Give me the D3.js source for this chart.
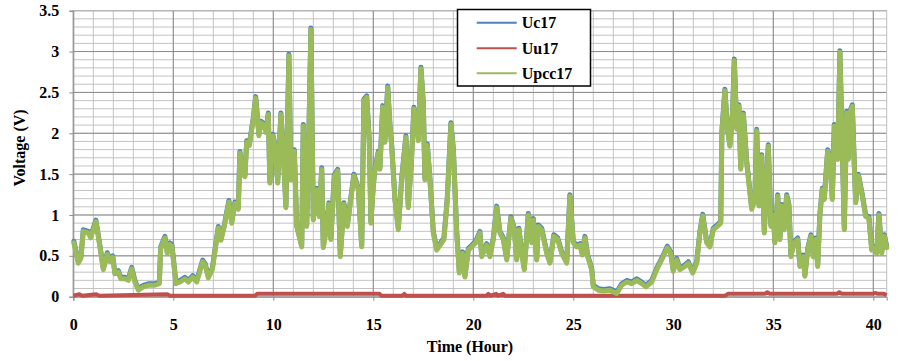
<!DOCTYPE html>
<html>
<head>
<meta charset="utf-8">
<style>
  body { margin: 0; background: #fff; }
  svg { display: block; }
  svg text { font-family: "Liberation Serif", "Times New Roman", Times, serif; }
</style>
</head>
<body>
<svg></svg>
<script src="https://d3js.org/d3.v7.min.js"></script>
<script>
// time axis (hours) and voltages
const upccTimes = [0.03, 0.25, 0.38, 0.5, 0.75, 0.87, 1.13, 1.33, 1.5, 1.7, 1.83, 1.97, 2.08, 2.25, 2.37, 2.58, 2.75, 2.92, 3.08, 3.25,
  3.5, 3.75, 4.08, 4.3, 4.37, 4.58, 4.7, 4.83, 4.93, 5.13, 5.33, 5.58, 5.75, 5.97, 6.17, 6.47, 6.6, 6.75, 6.95, 7.25,
  7.38, 7.55, 7.78, 7.92, 8.08, 8.25, 8.33, 8.45, 8.58, 8.67, 8.8, 9.0, 9.12, 9.28, 9.38, 9.55, 9.63, 9.75, 9.83, 9.97,
  10.08, 10.22, 10.38, 10.5, 10.63, 10.78, 10.88, 11.05, 11.17, 11.42, 11.5, 11.67, 11.75, 11.88, 12.0, 12.17, 12.3, 12.42, 12.5, 12.62,
  12.78, 12.88, 13.05, 13.22, 13.35, 13.53, 13.7, 14.03, 14.25, 14.42, 14.53, 14.67, 14.8, 14.88, 15.0, 15.08, 15.25, 15.33, 15.47, 15.58,
  15.72, 15.83, 15.92, 16.08, 16.25, 16.42, 16.63, 16.75, 16.92, 17.03, 17.17, 17.25, 17.38, 17.5, 17.58, 17.7, 17.83, 18.0, 18.17, 18.42,
  18.53, 18.7, 18.88, 19.0, 19.17, 19.3, 19.47, 19.58, 19.75, 19.92, 20.12, 20.33, 20.42, 20.67, 20.83, 21.0, 21.17, 21.33, 21.5, 21.67,
  21.88, 22.05, 22.17, 22.28, 22.42, 22.55, 22.75, 22.92, 23.0, 23.17, 23.25, 23.42, 23.67, 23.83, 24.03, 24.22, 24.42, 24.67, 24.83, 25.0,
  25.17, 25.33, 25.45, 25.58, 25.72, 25.92, 26.0, 26.25, 26.5, 26.83, 27.17, 27.42, 27.67, 27.92, 28.17, 28.42, 28.63, 28.92, 29.17, 29.42,
  29.7, 29.87, 30.0, 30.17, 30.33, 30.58, 30.75, 30.97, 31.17, 31.33, 31.47, 31.67, 31.83, 32.0, 32.2, 32.37, 32.43, 32.58, 32.7, 32.83,
  32.97, 33.05, 33.17, 33.28, 33.37, 33.5, 33.67, 33.92, 34.08, 34.17, 34.28, 34.42, 34.55, 34.75, 34.88, 35.0, 35.08, 35.22, 35.33, 35.42,
  35.55, 35.67, 35.78, 35.88, 36.05, 36.22, 36.33, 36.5, 36.58, 36.72, 36.88, 37.0, 37.12, 37.22, 37.33, 37.45, 37.55, 37.72, 37.83, 37.95,
  38.05, 38.22, 38.33, 38.45, 38.55, 38.67, 38.75, 38.83, 38.95, 39.05, 39.12, 39.25, 39.45, 39.62, 39.78, 39.92, 40.05, 40.17, 40.28, 40.42,
  40.55, 40.67];
const upccValues = [0.66, 0.41, 0.47, 0.80, 0.78, 0.72, 0.92, 0.61, 0.33, 0.52, 0.43, 0.48, 0.28, 0.30, 0.22, 0.22, 0.20, 0.34, 0.18, 0.08,
  0.12, 0.14, 0.14, 0.16, 0.59, 0.72, 0.53, 0.64, 0.62, 0.16, 0.18, 0.22, 0.18, 0.24, 0.18, 0.43, 0.38, 0.23, 0.33, 0.84,
  0.69, 0.86, 1.16, 0.90, 1.14, 1.07, 1.76, 1.52, 1.47, 1.89, 1.85, 2.17, 2.43, 1.97, 2.13, 2.09, 2.01, 2.23, 1.39, 1.97,
  1.85, 1.39, 2.23, 1.76, 1.09, 2.95, 1.43, 1.78, 0.86, 0.61, 2.09, 0.86, 1.60, 3.27, 0.94, 1.31, 0.98, 1.56, 0.60, 0.78,
  1.13, 0.70, 1.47, 1.54, 0.49, 1.13, 0.86, 1.48, 1.31, 0.61, 2.40, 2.44, 1.89, 0.90, 1.35, 1.54, 1.76, 1.56, 2.32, 1.89,
  2.56, 2.09, 1.84, 1.19, 0.82, 1.43, 1.95, 1.09, 1.72, 2.30, 2.09, 1.91, 2.79, 2.36, 1.43, 1.85, 1.43, 0.78, 0.57, 0.66,
  0.70, 1.19, 2.11, 1.80, 0.78, 0.29, 0.53, 0.24, 0.57, 0.61, 0.66, 0.78, 0.49, 0.63, 0.49, 0.70, 1.09, 0.78, 0.70, 0.45,
  0.96, 0.82, 0.45, 0.82, 0.53, 0.33, 1.00, 0.66, 0.94, 0.45, 0.86, 0.82, 0.53, 0.41, 0.74, 0.70, 0.53, 0.41, 1.23, 0.66,
  0.61, 0.63, 0.51, 0.72, 0.49, 0.33, 0.12, 0.08, 0.07, 0.08, 0.04, 0.14, 0.18, 0.16, 0.20, 0.16, 0.12, 0.18, 0.33, 0.45,
  0.60, 0.53, 0.31, 0.45, 0.33, 0.37, 0.41, 0.29, 0.41, 0.78, 0.99, 0.66, 0.61, 0.82, 0.86, 0.90, 2.01, 2.52, 2.05, 1.84,
  2.28, 2.89, 2.05, 2.33, 1.56, 2.23, 1.64, 1.07, 1.19, 2.03, 1.11, 1.72, 0.78, 1.84, 0.86, 1.00, 0.66, 1.23, 0.70, 1.11,
  0.82, 1.23, 1.11, 0.49, 0.66, 0.70, 0.37, 0.49, 0.25, 0.57, 0.74, 0.49, 0.70, 0.37, 1.00, 1.31, 1.19, 1.78, 1.68, 1.19,
  2.09, 1.68, 2.99, 1.80, 0.82, 2.25, 1.68, 2.25, 2.33, 1.60, 1.15, 1.48, 1.23, 0.98, 0.96, 0.57, 0.59, 0.53, 1.00, 0.53,
  0.74, 0.60];
// Uc17 lies on top of Upcc17 to within a pixel in the original
const ucTimes = upccTimes;
const ucValues = upccValues;

const uuTimes = [0, 0.3, 0.45, 1.15, 1.3, 4.7, 4.85, 9.1, 9.2, 15.3, 15.4, 16.45, 16.55, 16.65, 20.65, 20.75, 20.85, 21.15, 21.25, 21.5,
  21.6, 32.6, 32.75, 34.6, 34.7, 34.8, 38.2, 38.3, 38.4, 40.0, 40.1, 40.2, 40.5, 40.67];
const uuValues = [0.012, 0.03, 0.012, 0.03, 0.012, 0.03, 0.012, 0.012, 0.037, 0.037, 0.012, 0.012, 0.035, 0.012, 0.012, 0.035, 0.012, 0.035, 0.012, 0.035,
  0.012, 0.012, 0.037, 0.037, 0.055, 0.037, 0.037, 0.055, 0.037, 0.037, 0.045, 0.037, 0.037, 0.02];

const seriesNames = ["Uc17", "Uu17", "Upcc17"];
const seriesColors = ["#4F81BD", "#C0504D", "#9BBB59"];
const xTicks = [0, 5, 10, 15, 20, 25, 30, 35, 40];
const yTicks = [0, 0.5, 1, 1.5, 2, 2.5, 3, 3.5];

const width = 903, height = 361;
const svg = d3.select("svg").attr("width", width).attr("height", height);
const serif = "'Liberation Serif', 'Times New Roman', Times, serif";

const x = d3.scaleLinear().domain([0, 40.67]).range([73.3, 886.7]);
const y = d3.scaleLinear().domain([0, 3.5]).range([296.7, 10.7]);

// minor grid
const grid = svg.append("g");
grid.selectAll(".vmin").data(d3.range(0, 41, 1)).enter().append("line")
  .attr("x1", d => x(d)).attr("x2", d => x(d))
  .attr("y1", y(0)).attr("y2", y(3.5))
  .attr("stroke", "#c3c3c3").attr("stroke-width", 1);
grid.selectAll(".hmin").data(d3.range(0, 36, 1).map(d => d / 10)).enter().append("line")
  .attr("x1", x(0)).attr("x2", x(40.67))
  .attr("y1", d => y(d)).attr("y2", d => y(d))
  .attr("stroke", "#c3c3c3").attr("stroke-width", 1);
// major grid
grid.selectAll(".vmaj").data(xTicks).enter().append("line")
  .attr("x1", d => x(d)).attr("x2", d => x(d))
  .attr("y1", y(0)).attr("y2", y(3.5))
  .attr("stroke", "#8c8c8c").attr("stroke-width", 1);
grid.selectAll(".hmaj").data(yTicks).enter().append("line")
  .attr("x1", x(0)).attr("x2", x(40.67))
  .attr("y1", d => y(d)).attr("y2", d => y(d))
  .attr("stroke", "#8c8c8c").attr("stroke-width", 1);
svg.append("rect")
  .attr("x", x(0)).attr("y", y(3.5))
  .attr("width", x(40.67) - x(0)).attr("height", y(0) - y(3.5))
  .attr("fill", "none").attr("stroke", "#bcbcbc");

// axes
const yAxis = svg.append("g").attr("transform", "translate(" + x(0) + ",0)")
  .call(d3.axisLeft(y).tickValues(yTicks).tickSize(4).tickPadding(10).tickFormat(d => String(d)));
const xAxis = svg.append("g").attr("transform", "translate(0," + y(0) + ")")
  .call(d3.axisBottom(x).tickValues(xTicks).tickSize(4).tickPadding(18));
[xAxis, yAxis].forEach(a => {
  a.attr("font-family", serif).attr("font-size", 16).attr("font-weight", "bold");
  a.select(".domain").attr("stroke", "#8c8c8c");
  a.selectAll(".tick line").attr("stroke", "#8c8c8c");
  a.selectAll("text").attr("fill", "#000");
});

// lines
const line = d3.line().x(d => x(d[0])).y(d => y(d[1]));
const uc = ucTimes.map((t, i) => [t, ucValues[i]]);
const uu = uuTimes.map((t, i) => [t, uuValues[i]]);
const upcc = upccTimes.map((t, i) => [t, upccValues[i]]);

svg.append("path").datum(uc).attr("d", line)
  .attr("transform", "translate(0,-1.5)")
  .attr("fill", "none").attr("stroke", seriesColors[0]).attr("stroke-width", 5)
  .attr("stroke-linejoin", "round").attr("stroke-linecap", "round");
svg.append("path").datum(uu).attr("d", line)
  .attr("fill", "none").attr("stroke", seriesColors[1]).attr("stroke-width", 4)
  .attr("stroke-linejoin", "round");
svg.append("path").datum(upcc).attr("d", line)
  .attr("fill", "none").attr("stroke", seriesColors[2]).attr("stroke-width", 5)
  .attr("stroke-linejoin", "round").attr("stroke-linecap", "round");

// axis titles
svg.append("text").attr("x", 470).attr("y", 352).attr("text-anchor", "middle")
  .attr("font-family", serif).attr("font-size", 16).attr("font-weight", "bold").text("Time (Hour)");
svg.append("text").attr("transform", "translate(25,148) rotate(-90)").attr("text-anchor", "middle")
  .attr("font-family", serif).attr("font-size", 16).attr("font-weight", "bold").text("Voltage (V)");

// legend
const legend = svg.append("g");
legend.append("rect").attr("x", 457.5).attr("y", 9.5).attr("width", 133).attr("height", 76.5)
  .attr("fill", "#fff").attr("stroke", "#000").attr("stroke-width", 1.5);
const rows = legend.selectAll(".row").data(seriesNames).enter().append("g")
  .attr("transform", (d, i) => "translate(0," + [22.7, 48.3, 73.3][i] + ")");
rows.append("line").attr("x1", 476.7).attr("x2", 516.7)
  .attr("stroke", (d, i) => seriesColors[i]).attr("stroke-width", 2);
rows.append("text").attr("x", 521.7).attr("dy", "0.35em")
  .attr("font-family", serif).attr("font-size", 16).attr("font-weight", "bold").text(d => d);
</script>
</body>
</html>
